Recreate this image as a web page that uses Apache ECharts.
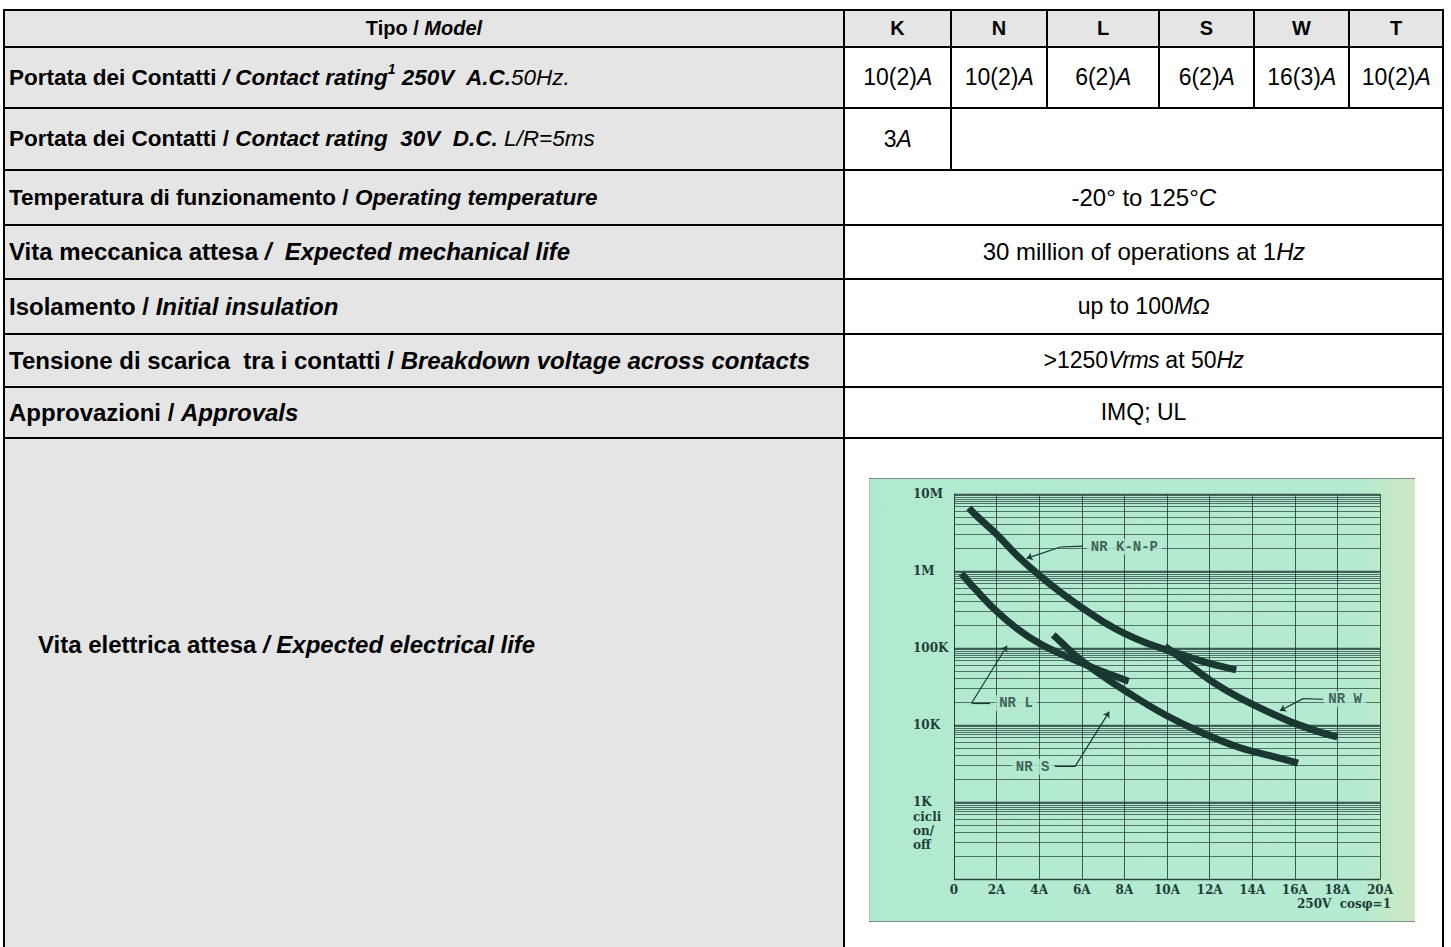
<!DOCTYPE html>
<html>
<head>
<meta charset="utf-8">
<script src="https://cdn.jsdelivr.net/npm/echarts/dist/echarts.min.js"></script>
<style>
  html, body { margin: 0; padding: 0; background: #ffffff; }
  body { width: 1451px; height: 947px; overflow: hidden; position: relative;
         font-family: "Liberation Sans", Arial, sans-serif; color: #000; }
  .ln { position: absolute; background: #000; }
  .fill { position: absolute; background: #e5e5e5; }
  .cell { position: absolute; display: flex; align-items: center; white-space: pre; }
  .cell.c { justify-content: center; }
  .lbl { font-size: 22.5px; font-weight: bold; }
  .lbl.big { font-size: 24px; }
  .val { font-size: 23px; }
  .val.wide { font-size: 24px; }
  .val .i { letter-spacing: -0.6px; }
  .hdr { font-size: 20px; font-weight: bold; }
  .b { font-weight: bold; font-style: normal; }
  .bi { font-weight: bold; font-style: italic; }
  .i { font-style: italic; font-weight: normal; }
  .bisup { font-weight: bold; font-style: italic; font-size: 0.62em; position: relative; top: -0.6em; }
  #chart { position: absolute; left: 869px; top: 478px; width: 546px; height: 444px;
           background: linear-gradient(to right, #b2eacf 0%, #b4ebd1 90%, #cfe9c0 100%);
           box-shadow: inset 0 1px 0 #7d8f88, inset 0 -1px 0 #7d8f88, inset 1px 0 0 #a9c7bb; }
</style>
</head>
<body>
<div id="table"></div>
<div id="chart"></div>
<script>
// ---------------- table content ----------------
const headerLabel = [['b', 'Tipo / '], ['bi', 'Model']];
const models = ['K', 'N', 'L', 'S', 'W', 'T'];
const acRatings = ['10(2)', '10(2)', '6(2)', '6(2)', '16(3)', '10(2)'];
const dcRatingK = '3';
const rowLabels = [
  [['b', 'Portata dei Contatti '], ['bi', '/ Contact rating'], ['bisup', '1'], ['bi', ' 250V  A.C.'], ['i', '50Hz.']],
  [['b', 'Portata dei Contatti / '], ['bi', 'Contact rating  30V  D.C. '], ['i', 'L/R=5ms']],
  [['b', 'Temperatura di funzionamento / '], ['bi', 'Operating temperature']],
  [['b', 'Vita meccanica attesa '], ['bi', '/  Expected mechanical life']],
  [['b', 'Isolamento / '], ['bi', 'Initial insulation']],
  [['b', 'Tensione di scarica  tra i contatti / '], ['bi', 'Breakdown voltage across contacts']],
  [['b', 'Approvazioni / '], ['bi', 'Approvals']],
  [['b', 'Vita elettrica attesa '], ['bi', '/ Expected electrical life']]
];
const specValues = [
  [['', '-20° to 125°'], ['i', 'C']],
  [['', '30 million of operations at 1'], ['i', 'Hz']],
  [['', 'up to 100'], ['i', 'MΩ']],
  [['', '>1250'], ['i', 'Vrms'], ['', ' at 50'], ['i', 'Hz']],
  [['', 'IMQ; UL']]
];

// ---------------- chart content ----------------
const xTickLabels = ['0', '2A', '4A', '6A', '8A', '10A', '12A', '14A', '16A', '18A', '20A'];
const yTickValues = [1e3, 1e4, 1e5, 1e6, 1e7];
const yTickLabels = ['1K', '10K', '100K', '1M', '10M'];
const yUnitText = 'cicli\non/\noff';
const xUnitText = '250V  cos\u03C6=1';
// current (A), cycles
const curveKNP = [[0.7, 6.6e6], [1, 5.4e6], [2, 3.0e6], [3, 1.55e6], [4, 8.8e5], [5, 5.3e5], [6, 3.35e5],
                  [7, 2.2e5], [8, 1.55e5], [9, 1.17e5], [10, 9.4e4], [11, 7.7e4], [12, 6.3e4], [13.25, 5.2e4]];
const curveL = [[0.35, 9.3e5], [1, 5.8e5], [2, 3.0e5], [3, 1.75e5], [4, 1.15e5], [5, 8.4e4], [6, 6.4e4],
                [7, 4.9e4], [8.2, 3.7e4]];
const curveS = [[4.66, 1.48e5], [5, 1.21e5], [5.77, 7.7e4], [6.82, 4.65e4], [8.2, 2.6e4], [9.95, 1.34e4],
                [11.7, 7.8e3], [13.4, 5.1e3], [15.2, 3.76e3], [16.15, 3.2e3]];
const curveW = [[9.9, 1.05e5], [10.43, 8.2e4], [11, 6.2e4], [12, 3.86e4], [13, 2.6e4], [13.9, 1.92e4],
                [15, 1.38e4], [16, 1.05e4], [17, 8.4e3], [18, 7.0e3]];
// curve name labels: [x, y, text]
const curveLabels = [[8.0, 2.07e6, 'NR K-N-P'], [2.91, 1.93e4, 'NR L'], [3.69, 2.88e3, 'NR S'], [18.36, 2.16e4, 'NR W']];
// leader lines: plain part and arrow part
const leaderPlain = [
  [[6.05, 2.1e6], [5.0, 2.05e6]],
  [[1.69, 1.93e4], [0.83, 1.93e4]],
  [[4.74, 2.88e3], [5.68, 2.88e3]],
  [[17.33, 2.16e4], [16.39, 2.2e4]]
];
const leaderArrow = [
  [[5.0, 2.05e6], [3.41, 1.46e6]],
  [[0.83, 1.93e4], [2.49, 1.07e5]],
  [[5.68, 2.88e3], [7.29, 1.49e4]],
  [[16.39, 2.2e4], [15.3, 1.53e4]]
];

// ---------------- build table ----------------
const T = document.getElementById('table');
const colX = [4, 844, 951, 1047, 1159, 1254, 1349, 1443];
const rowY = [10, 47, 108, 170, 225, 279, 334, 387, 438];
function add(cls, l, t, w, h, html) {
  const d = document.createElement('div');
  d.className = cls;
  d.style.left = l + 'px'; d.style.top = t + 'px';
  d.style.width = w + 'px'; d.style.height = h + 'px';
  if (html !== undefined) d.innerHTML = html;
  T.appendChild(d);
  return d;
}
function rich(parts) {
  return parts.map(p => '<span class="' + p[0] + '">' + p[1].replace(/</g, '&lt;').replace(/>/g, '&gt;') + '</span>').join('');
}
// gray fills
add('fill', colX[0], rowY[0], colX[7] - colX[0], rowY[1] - rowY[0]);
add('fill', colX[0], rowY[1], colX[1] - colX[0], 947 - rowY[1]);
// header
add('cell c hdr', colX[0], rowY[0], colX[1] - colX[0], rowY[1] - rowY[0], rich(headerLabel));
models.forEach((m, i) => add('cell c hdr', colX[i + 1], rowY[0], colX[i + 2] - colX[i + 1], rowY[1] - rowY[0], m));
// row labels
rowLabels.forEach((parts, r) => {
  const cls = r >= 3 ? 'cell lbl big' : 'cell lbl';
  if (r < 7) {
    add(cls, colX[0] + 5, rowY[r + 1], colX[1] - colX[0] - 5, rowY[r + 2] - rowY[r + 1], rich(parts));
  } else {
    add(cls, colX[0] + 34, rowY[8], colX[1] - colX[0] - 34, 414, rich(parts));
  }
});
// AC ratings
acRatings.forEach((v, i) => add('cell c val', colX[i + 1], rowY[1], colX[i + 2] - colX[i + 1], rowY[2] - rowY[1], rich([['', v], ['i', 'A']])));
// DC rating
add('cell c val', colX[1], rowY[2], colX[2] - colX[1], rowY[3] - rowY[2], rich([['', dcRatingK], ['i', 'A']]));
// merged specs
specValues.forEach((parts, k) => add('cell c val' + (k < 2 ? ' wide' : ''), colX[1], rowY[k + 3], colX[7] - colX[1], rowY[k + 4] - rowY[k + 3], rich(parts)));
// lines
rowY.forEach(y => add('ln', colX[0] - 1, y - 1, colX[7] - colX[0] + 2, 2));
[colX[0], colX[1], colX[7]].forEach(x => add('ln', x - 1, rowY[0] - 1, 2, 960));
colX.slice(2, 7).forEach(x => add('ln', x - 1, rowY[0], 2, rowY[2] - rowY[0]));
add('ln', colX[2] - 1, rowY[2], 2, rowY[3] - rowY[2]);

// ---------------- chart ----------------
const panelColor = '#b3ead0';
const inkColor = '#1a3633';
const gridColor = 'rgba(34,62,57,0.85)';
const serifFont = '"DejaVu Serif", "Liberation Serif", serif';
const monoFont = '"Liberation Mono", "DejaVu Sans Mono", monospace';

// minor log grid lines (paper grid)
const minorFactors = [2, 3, 4, 5, 6, 7, 7.5, 8, 8.5, 9, 9.5];
const minorLines = [];
for (let e = 2; e <= 6; e++) minorFactors.forEach(f => minorLines.push({ yAxis: f * Math.pow(10, e) }));

function yLabel(v) {
  for (let i = 0; i < yTickValues.length; i++) {
    if (Math.abs(Math.log10(v) - Math.log10(yTickValues[i])) < 1e-6) return yTickLabels[i];
  }
  return '';
}
const curveSeries = (name, data) => ({
  name, type: 'line', data, smooth: 0.4, symbol: 'none', z: 3,
  lineStyle: { color: inkColor, width: 7, cap: 'butt' }
});

const chart = echarts.init(document.getElementById('chart'), null, { renderer: 'svg' });
chart.setOption({
  animation: false,
  backgroundColor: 'transparent',
  grid: { left: 85, right: 35, top: 16, bottom: 43 },
  xAxis: {
    type: 'value', min: 0, max: 20, interval: 2,
    axisLine: { show: true, lineStyle: { color: gridColor, width: 1 } },
    axisTick: { show: false },
    splitLine: { show: true, lineStyle: { color: gridColor, width: 1 } },
    axisLabel: {
      formatter: v => xTickLabels[Math.round(v / 2)],
      fontFamily: serifFont, fontWeight: 'bold', fontSize: 12, color: '#223d39', margin: 5
    }
  },
  yAxis: {
    type: 'log', logBase: 10, min: 100, max: 1e7,
    axisLine: { show: true, lineStyle: { color: gridColor, width: 1 } },
    axisTick: { show: false },
    splitLine: { show: true, lineStyle: { color: gridColor, width: 1.3 } },
    axisLabel: {
      formatter: yLabel, align: 'left', margin: 41,
      fontFamily: serifFont, fontWeight: 'bold', fontSize: 12, color: '#223d39',
      padding: [0, 0, 7, 0]
    }
  },
  graphic: [
    { type: 'text', left: 44, top: 332, style: { text: yUnitText, font: 'bold 12px ' + serifFont, fill: '#223d39', lineHeight: 14 } },
    { type: 'text', right: 24, top: 420, style: { text: xUnitText, font: 'bold 12px ' + serifFont, fill: '#223d39' } }
  ],
  series: [
    {
      name: 'paper', type: 'line', data: [], silent: true, z: 1,
      markLine: {
        silent: true, symbol: ['none', 'none'], label: { show: false },
        lineStyle: { type: 'solid', width: 1, color: 'rgba(34,62,57,0.7)' },
        data: minorLines
      }
    },
    curveSeries('NR K-N-P', curveKNP),
    curveSeries('NR L', curveL),
    curveSeries('NR S', curveS),
    curveSeries('NR W', curveW),
    {
      name: 'leaders', type: 'lines', coordinateSystem: 'cartesian2d', z: 4, silent: true,
      symbol: ['none', 'none'],
      lineStyle: { color: inkColor, width: 1.2, opacity: 1 },
      data: leaderPlain.map(c => ({ coords: c }))
    },
    {
      name: 'arrows', type: 'lines', coordinateSystem: 'cartesian2d', z: 4, silent: true,
      symbol: ['none', 'arrow'], symbolSize: 6,
      lineStyle: { color: inkColor, width: 1.2, opacity: 1 },
      data: leaderArrow.map(c => ({ coords: c }))
    },
    {
      name: 'labels', type: 'scatter', z: 5, silent: true, symbolSize: 0,
      data: curveLabels,
      label: {
        show: true, position: 'inside', formatter: p => p.data[2],
        fontFamily: monoFont, fontSize: 14, fontWeight: 'bold', color: '#24403c',
        backgroundColor: panelColor, padding: [1, 4]
      }
    }
  ]
});
</script>
</body>
</html>
